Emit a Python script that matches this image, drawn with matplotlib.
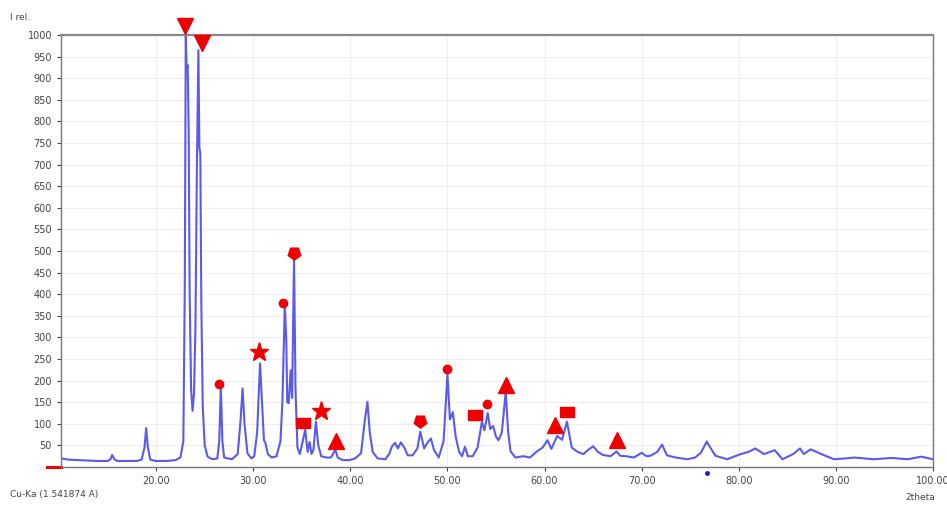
import matplotlib
matplotlib.use("Agg")
import matplotlib.pyplot as plt
import matplotlib.transforms as mtransforms

# XRD pattern (2theta in degrees, relative intensity)
two_theta = [10.2, 11.0, 12.0, 13.0, 14.0, 15.0, 15.3, 15.47, 15.7, 16.0, 17.0, 18.0, 18.5, 18.8, 18.97, 19.15, 19.4, 20.0, 21.0, 22.0, 22.5,
             22.8, 22.95, 23.05, 23.15, 23.25, 23.35, 23.45, 23.6, 23.75, 23.9, 24.05, 24.2, 24.35, 24.45, 24.55, 24.65, 24.8, 25.0, 25.3,
             25.8, 26.3, 26.5, 26.66, 26.82, 27.0, 27.8, 28.4, 28.7, 28.9, 29.1, 29.4, 29.8, 30.1, 30.4, 30.7, 30.95, 31.1, 31.25, 31.5, 31.9, 32.4, 32.8,
             33.0, 33.25, 33.4, 33.5, 33.65, 33.85, 34.0, 34.1, 34.2, 34.35, 34.55, 34.8, 35.05, 35.35, 35.6, 35.8, 36.0, 36.2, 36.45, 36.7, 37.0, 37.5,
             38.0, 38.45, 38.7, 39.2, 39.9, 40.5, 41.1, 41.5, 41.76, 42.0, 42.3, 42.8, 43.6, 44.0, 44.27, 44.6, 44.9, 45.2, 45.6, 45.9, 46.4, 46.9, 47.2, 47.6, 47.9, 48.3, 48.6, 49.1, 49.6,
             50.0, 50.25, 50.55, 50.85, 51.2, 51.5, 51.8, 52.1, 52.6, 53.1, 53.55, 53.8, 54.15, 54.4, 54.7, 55.0, 55.25, 55.6, 56.0, 56.25, 56.5, 57.0, 57.8,
             58.5, 59.2, 59.8, 60.3, 60.7, 61.3, 61.8, 62.3, 62.8, 63.4, 64.0, 64.5, 65.0, 65.5, 66.0, 66.8, 67.4, 67.8, 68.4, 69.2, 70.0, 70.5, 70.9, 71.6, 72.1, 72.6,
             73.5, 74.7, 75.5, 76.1, 76.7, 77.2, 77.6, 78.8, 80.2, 81.0, 81.7, 82.6, 83.7, 84.5, 85.6, 86.3, 86.7, 87.4, 88.5, 89.8, 91.0, 91.9, 93.9, 95.7, 97.4, 98.8, 100.0]
intensity = [20, 17, 16, 15, 14, 14, 18, 28, 18, 14, 14, 14, 17, 45, 90, 45, 17, 14, 14, 16, 22,
             60, 420, 1000, 920, 930, 780, 400, 180, 130, 170, 330, 700, 965, 740, 725, 380, 140, 50, 24,
             18, 20, 60, 186, 60, 22, 18, 30, 110, 182, 100, 32, 20, 25, 80, 240, 130, 62, 56, 30, 22, 25, 60,
             150, 375, 295, 150, 148, 224, 160, 320, 484, 180, 45, 30, 55, 86, 35, 58, 30, 40, 105, 50, 25, 22,
             22, 40, 22, 16, 16, 20, 32, 110, 151, 80, 35, 20, 18, 30, 47, 56, 43, 57, 43, 27, 27, 43, 82, 43, 55, 66, 40, 22, 60,
             215, 110, 127, 70, 35, 25, 47, 25, 25, 45, 105, 85, 125, 88, 95, 70, 62, 80, 174, 80, 36, 22, 25,
             22, 36, 45, 62, 42, 72, 63, 105, 45, 35, 30, 40, 48, 35, 28, 25, 36, 26, 25, 22, 33, 25, 26, 35, 52, 27,
             22, 18, 22, 33, 59, 40, 26, 18, 30, 35, 43, 30, 39, 18, 30, 43, 30, 41, 30, 18, 20, 22, 18, 21, 18, 24, 18]

# phase markers
tri_down_x = [22.99, 24.7]
tri_down_y = [1021, 981]
circle_x = [26.5, 33.1, 50.0, 54.1]
circle_y = [192, 380, 228, 147]
star_x = [30.6, 36.96]
star_y = [266, 130]
square_x = [35.17, 52.85, 62.3]
square_y = [103, 120, 127]
penta_x = [34.2, 47.19]
penta_y = [496, 107]
tri_up_x = [38.5, 56.05, 61.1, 67.5]
tri_up_y = [61, 190, 97, 63]

x_ticks = [20, 30, 40, 50, 60, 70, 80, 90, 100]
y_ticks = list(range(50, 1001, 50))

fig = plt.figure(figsize=(9.47, 5.05), dpi=100)
ax = fig.add_axes([0.0644, 0.0752, 0.9208, 0.8554])

ax.plot(two_theta, intensity, color='#5a5aee', lw=1.5)

red = '#ee0000'
ax.plot(tri_down_x, tri_down_y, 'v', color=red, ms=11, clip_on=False, zorder=5)
ax.plot(circle_x, circle_y, 'o', color=red, ms=6, clip_on=False, zorder=5)
ax.plot(star_x, star_y, '*', color=red, ms=14, clip_on=False, zorder=5)
rect = [(-1.3, -1), (1.3, -1), (1.3, 1), (-1.3, 1), (-1.3, -1)]
ax.plot(square_x, square_y, marker=rect, ls='none', color=red, ms=9.5, clip_on=False, zorder=5)
ax.plot(penta_x, penta_y, marker=(5, 0, 180), ls='none', color=red, ms=9.5, clip_on=False, zorder=5)
ax.plot(tri_up_x, tri_up_y, '^', color=red, ms=11, clip_on=False, zorder=5)

ax.set_xlim(10.2, 100)
ax.set_ylim(0, 1000)
ax.set_xticks(x_ticks)
ax.set_xticklabels(['%.2f' % v for v in x_ticks])
ax.set_yticks(y_ticks)
ax.tick_params(labelsize=7, colors='#444444', length=3, width=0.8)
ax.grid(True, color='#eeeeee', lw=0.8)
ax.set_axisbelow(True)
for s in ['left', 'bottom', 'right']:
    ax.spines[s].set_color('#777777')
    ax.spines[s].set_linewidth(1.0)
ax.spines['top'].set_color('#888888')
ax.spines['top'].set_linewidth(1.6)

# small red mark at the origin and blue tick under the axis
ax.plot([-0.016, 0], [0, 0], transform=ax.transAxes, color=red, lw=2.2, clip_on=False)
trans = mtransforms.blended_transform_factory(ax.transData, ax.transAxes)
ax.plot([76.7], [-0.013], 'o', ms=2.5, color='#2222aa', transform=trans, clip_on=False)

fig.text(10 / 947, 1 - 18 / 505, 'I rel.', fontsize=6.5, color='#444444', va='center')
fig.text(10 / 947, 1 - 495 / 505, 'Cu-Ka (1.541874 A)', fontsize=6.5, color='#444444', va='center')
fig.text(935 / 947, 1 - 497 / 505, '2theta', fontsize=6.5, color='#444444', va='center', ha='right')

fig.savefig('out.png', dpi=100)
